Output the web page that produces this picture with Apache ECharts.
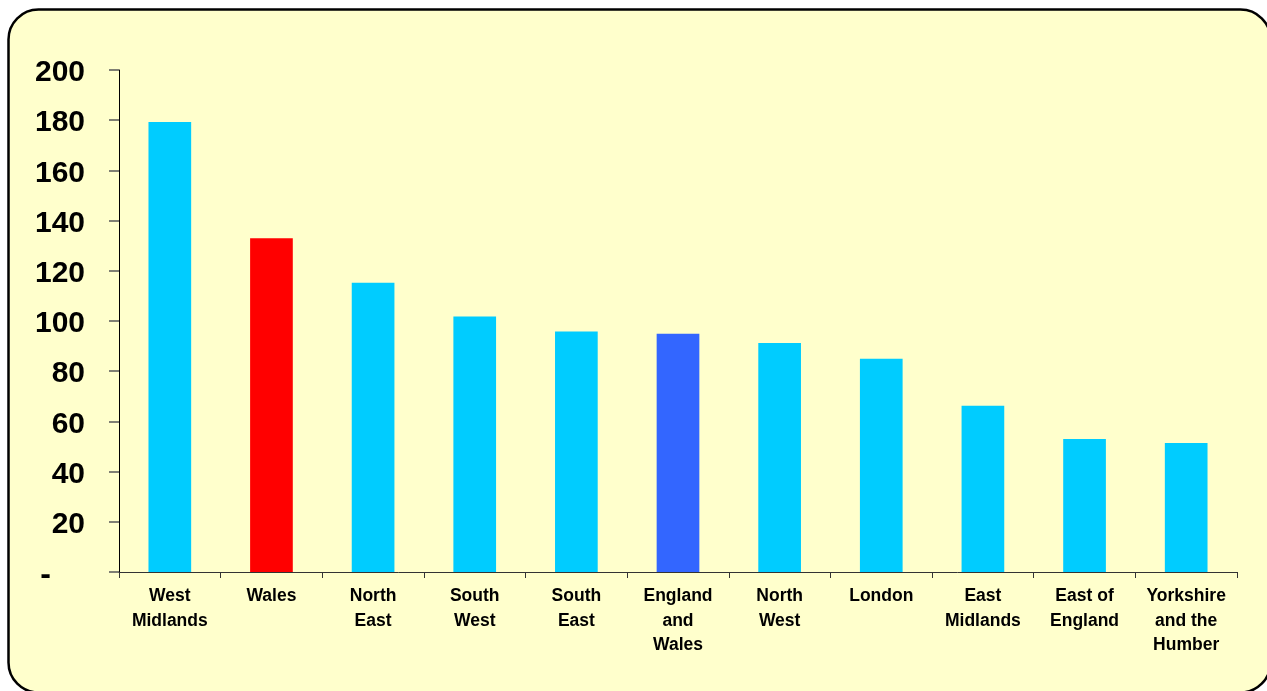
<!DOCTYPE html>
<html>
<head>
<meta charset="utf-8">
<script src="https://cdn.jsdelivr.net/npm/echarts@6/dist/echarts.min.js"></script>
<style>
  html, body { margin: 0; padding: 0; background: #ffffff; }
  #chart { width: 1267px; height: 691px; }
</style>
</head>
<body>
<div id="chart"></div>
<script>
// Regions, ordered by value
const regions = [
  'West\nMidlands', 'Wales', 'North\nEast', 'South\nWest', 'South\nEast',
  'England\nand\nWales', 'North\nWest', 'London', 'East\nMidlands',
  'East of\nEngland', 'Yorkshire\nand the\nHumber'
];
const values = [179.3, 133, 115.2, 101.8, 95.8, 94.9, 91.2, 85, 66.2, 53, 51.4];

// Bar colours: Wales highlighted, the England and Wales total in blue
const barColors = [
  '#00CCFF', '#FF0000', '#00CCFF', '#00CCFF', '#00CCFF',
  '#3366FF', '#00CCFF', '#00CCFF', '#00CCFF', '#00CCFF', '#00CCFF'
];

const yTicks = { min: 0, max: 200, interval: 20 };

const chart = echarts.init(document.getElementById('chart'), null, { renderer: 'canvas' });

chart.setOption({
  backgroundColor: '#ffffff',
  animation: false,
  graphic: [{
    type: 'rect',
    z: -10,
    silent: true,
    shape: { x: 8.5, y: 9.5, width: 1262, height: 683, r: 30 },
    style: { fill: '#FFFFCC', stroke: '#000000', lineWidth: 2.5 }
  }],
  grid: { left: 119, right: 30, top: 70, bottom: 119, containLabel: false },
  xAxis: {
    type: 'category',
    data: regions,
    axisLine: { show: true, lineStyle: { color: '#333333', width: 1 } },
    axisTick: { show: true, alignWithLabel: false, length: 6, lineStyle: { color: '#333333' } },
    axisLabel: {
      interval: 0,
      margin: 12,
      color: '#000000',
      fontFamily: 'Liberation Sans, Arial, sans-serif',
      fontWeight: 'bold',
      fontSize: 17.5,
      lineHeight: 24.5
    },
    splitLine: { show: false }
  },
  yAxis: {
    type: 'value',
    min: yTicks.min,
    max: yTicks.max,
    interval: yTicks.interval,
    axisLine: { show: true, lineStyle: { color: '#000000', width: 1 } },
    axisTick: { show: true, inside: false, length: 10, lineStyle: { color: '#555555', width: 1.5 } },
    splitLine: { show: false },
    axisLabel: {
      margin: 34,
      padding: [6, 0, 0, 0],
      color: '#000000',
      fontFamily: 'Liberation Sans, Arial, sans-serif',
      fontWeight: 'bold',
      fontSize: 30,
      formatter: v => v === 0 ? '{d|-}' : String(v),
      rich: {
        d: { fontSize: 32, fontWeight: 'bold', color: '#000000', padding: [0, 34, 0, 0] }
      }
    }
  },
  series: [{
    type: 'bar',
    barWidth: '42%',
    data: values.map((v, i) => ({ value: v, itemStyle: { color: barColors[i] } }))
  }]
});
</script>
</body>
</html>
